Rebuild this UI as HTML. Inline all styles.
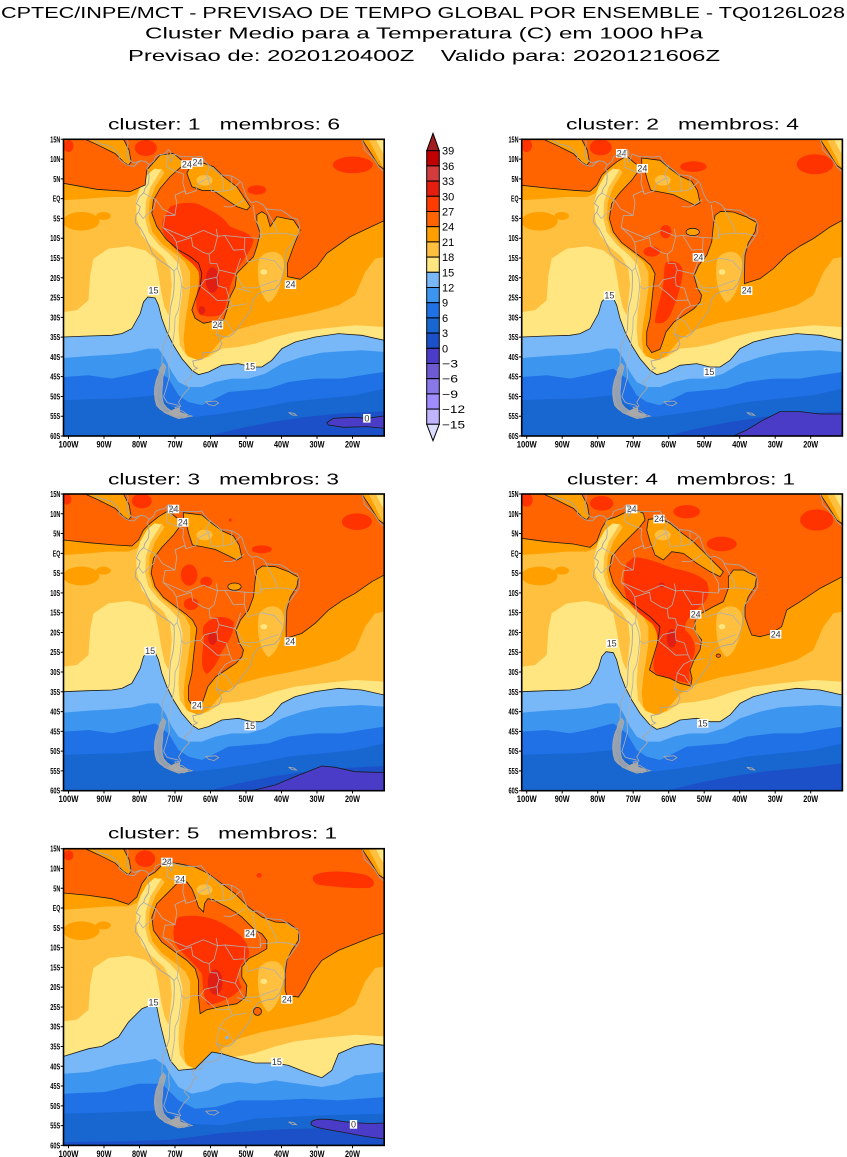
<!DOCTYPE html>
<html><head><meta charset="utf-8">
<style>
html,body{margin:0;padding:0;background:#fff;}
svg{display:block;}
.t{font-family:"Liberation Sans",sans-serif;fill:#000;white-space:pre;}
.lat{font-family:"Liberation Sans",sans-serif;font-weight:bold;font-size:8.5px;text-anchor:end;fill:#000;}
.lon{font-family:"Liberation Sans",sans-serif;font-weight:bold;font-size:9px;text-anchor:middle;fill:#000;}
.cl{font-family:"Liberation Sans",sans-serif;font-size:27px;text-anchor:middle;fill:#333;}
.cb{font-family:"Liberation Sans",sans-serif;font-size:11px;fill:#000;}
</style></head><body>
<svg width="847" height="1157" viewBox="0 0 847 1157" xmlns="http://www.w3.org/2000/svg">
<defs>
<clipPath id="fr"><rect x="0" y="0" width="320.7" height="296.7"/></clipPath>

<path id="car" d="M190,72 L230,90 280,115 305,140 320,150 328,140 322,105 305,72 Z"/>
<path id="afr" d="M1020,72 L1045,110 1070,150 1087,162 L1087,72 Z"/>
<path id="ov" d="M618,350 a20,11 0 1,0 40,0 a20,11 0 1,0 -40,0 Z"/>

<path id="m1" d="M125,204 L225,222 325,229 370,209 375,164 415,119 455,114 490,144 445,184 415,219 395,254 390,294 405,334 435,374 470,404 505,424 530,444 540,474 535,514 520,554 510,584 520,609 545,624 570,619 605,614 615,584 625,544 640,514 645,474 665,454 695,424 705,394 715,354 705,324 705,299 720,289 735,299 745,334 765,304 815,314 835,344 815,394 797,444 797,484 835,492 885,454 915,414 985,364 1087,316 L1087,962 125,962 Z"/>
<path id="k1" d="M515,134 L545,144 575,154 605,184 645,214 665,244 685,274 675,284 645,274 615,254 575,226 540,225 510,214 495,174 Z"/>

<path id="m3" d="M125,210 L200,218 280,225 330,228 350,210 365,180 385,160 410,140 440,122 460,140 483,157 455,195 420,232 395,265 388,310 400,350 425,382 462,410 492,432 512,450 525,475 520,515 515,560 510,610 500,650 500,690 515,712 540,702 548,680 558,650 582,620 612,600 642,580 660,560 665,540 652,518 642,482 656,450 680,420 695,380 700,330 705,300 722,288 760,290 800,305 830,322 825,350 805,382 795,420 793,470 793,505 840,490 880,460 920,420 960,392 1000,370 1050,335 1087,315 L1087,962 125,962 Z"/>
<path id="k3" d="M485,128 L500,130 540,135 570,160 600,182 635,198 652,225 660,262 645,270 615,255 580,238 540,230 512,225 502,195 495,168 485,145 Z"/>

<path id="m4" d="M125,205 L200,215 280,222 330,232 350,215 365,175 380,150 410,140 440,125 470,120 490,130 495,150 480,170 455,195 420,230 395,260 388,300 400,340 430,380 470,410 510,440 540,470 532,520 520,560 508,600 530,615 570,625 600,640 632,648 636,625 630,600 642,570 660,540 665,510 645,485 645,455 660,432 700,410 730,395 745,355 745,320 760,300 790,300 830,320 825,350 805,380 795,410 795,440 805,470 815,495 840,500 870,492 905,470 920,420 960,395 1020,355 1087,320 L1087,962 125,962 Z"/>
<path id="k4" d="M505,148 L540,145 570,160 600,185 640,215 680,255 705,280 730,305 720,320 690,305 650,280 610,250 575,245 550,270 525,255 510,215 500,180 Z"/>

<path id="m5" fill-rule="evenodd" clip-rule="evenodd" d="M125,205 L200,212 270,222 320,239 345,217 360,177 375,157 400,142 420,122 435,112 470,117 520,127 560,147 600,177 640,207 680,247 720,277 760,292 800,295 830,317 830,347 810,377 795,407 790,447 790,497 795,512 830,517 850,487 870,447 900,407 950,377 1000,357 1050,337 1087,325 L1087,962 125,962 Z M475,167 L495,172 510,192 520,217 530,247 545,262 548,237 558,222 575,225 595,237 615,247 640,262 660,277 680,297 700,317 720,327 735,347 735,372 710,387 680,402 660,427 660,457 675,482 672,517 645,537 600,545 555,555 535,567 530,517 530,467 520,432 495,407 460,382 420,352 395,317 390,277 405,237 440,202 470,172 Z"/>

<clipPath id="c1"><use href="#m1"/><use href="#k1"/><use href="#car"/><use href="#afr"/></clipPath>
<clipPath id="c3"><use href="#m3"/><use href="#k3"/><use href="#ov"/><use href="#car"/><use href="#afr"/></clipPath>
<clipPath id="c4"><use href="#m4"/><use href="#k4"/><use href="#car"/><use href="#afr"/></clipPath>
<clipPath id="c5"><use href="#m5"/><use href="#car"/><use href="#afr"/></clipPath>

<g id="cool">
 <path fill="#ffc040" d="M125,255 L200,250 260,245 320,245 345,235 370,195 395,168 418,160 428,172 400,215 383,260 381,310 392,350 420,385 460,415 490,440 505,470 505,520 498,570 490,620 485,670 490,710 505,730 535,735 560,720 600,672 650,642 720,622 800,607 880,590 950,570 1000,540 1030,470 1060,430 1087,425 L1087,962 125,962 Z"/>
 <path fill="#ffc040" d="M1040,72 L1060,110 1080,150 1087,158 L1087,72 Z"/>
 <ellipse fill="#ffc040" cx="548" cy="195" rx="24" ry="16"/>
 <path fill="#ffc040" d="M712,430 C740,395 792,405 786,455 C780,505 768,545 740,562 C712,540 702,478 712,430 Z"/>
 <ellipse fill="#ffe680" cx="726" cy="470" rx="10" ry="8"/>
 <ellipse fill="#ffa000" cx="178" cy="318" rx="55" ry="28"/>
 <ellipse fill="#ffa000" cx="245" cy="302" rx="22" ry="12"/>
 <path fill="#ffe680" d="M125,590 L165,585 200,555 205,480 215,430 260,400 320,393 370,405 400,430 410,480 418,530 428,575 440,600 445,560 450,510 445,460 425,425 390,395 360,360 345,310 343,260 355,215 375,180 398,160 418,163 405,185 386,215 372,260 370,310 380,350 410,388 445,418 472,448 482,490 480,540 473,590 470,640 474,690 495,722 530,735 560,725 600,700 650,695 700,685 760,665 820,650 900,640 1000,630 1087,635 L1087,962 125,962 Z"/>
 <path fill="#ffe680" d="M1062,72 L1075,98 1087,118 L1087,72 Z"/>
</g>

<path id="L5" d="M125,665 L200,662 270,660 300,655 330,640 355,595 365,560 378,545 400,548 410,570 420,610 435,650 455,690 480,730 510,765 530,778 560,770 600,750 650,745 690,755 720,755 750,735 780,700 820,680 880,665 950,655 1020,660 1087,675 L1087,962 125,962 Z"/>
<g id="blues">
 <use href="#L5" fill="#78b8f8"/>
 <path fill="#3c96f0" d="M125,728 L200,722 270,718 330,712 380,700 410,700 430,730 450,770 470,800 500,815 540,815 580,800 630,790 680,790 730,775 780,745 840,725 900,712 960,708 1020,705 1087,710 L1087,962 125,962 Z"/>
 <path fill="#2070e6" d="M125,785 L200,780 270,790 330,778 400,760 440,790 470,840 500,860 540,870 580,850 620,830 680,825 740,820 800,800 880,790 960,790 1020,780 1087,770 L1087,962 125,962 Z"/>
 <path fill="#1866d0" d="M125,855 L200,852 300,850 400,840 460,880 520,905 600,895 700,880 800,860 900,850 1000,840 1087,820 L1087,962 125,962 Z"/>
 <path fill="#1c50c8" d="M560,962 L650,940 750,920 850,905 950,895 1087,888 L1087,962 Z"/>
</g>

<path id="L5b" d="M125,695 L200,672 240,665 290,637 320,592 360,552 385,542 405,547 415,597 430,657 445,707 470,737 520,732 555,697 570,682 600,687 650,702 700,715 760,715 800,722 850,742 900,759 930,737 950,687 1000,665 1050,657 1087,662 L1087,962 125,962 Z"/>
<g id="blues5">
 <use href="#L5b" fill="#78b8f8"/>
 <path fill="#3c96f0" d="M125,747 L200,742 280,722 350,712 400,702 430,722 450,757 470,787 510,807 560,797 600,777 650,772 700,777 760,767 830,777 900,787 950,777 1000,752 1087,742 L1087,962 125,962 Z"/>
 <path fill="#2070e6" d="M125,807 L250,802 350,777 420,777 470,827 520,852 580,847 650,827 750,827 850,822 950,827 1087,817 L1087,962 125,962 Z"/>
 <path fill="#1866d0" d="M125,867 L300,862 420,857 500,897 600,902 700,882 800,877 900,872 1087,867 L1087,962 125,962 Z"/>
 <path fill="#1c50c8" d="M125,952 L300,950 450,945 600,925 750,915 900,910 1087,905 L1087,962 125,962 Z"/>
</g>

<g id="coast" transform="translate(360,59.4) scale(3.55,-3.96)" fill="none" stroke="#a6a6a6">
 <path fill="#a9a9a9" fill-opacity="0.85" stroke="#a9a9a9" vector-effect="non-scaling-stroke" stroke-width="0.8" d="M-73.3,-41.6 L-74.2,-42.8 -74.6,-44.3 -75.3,-45.8 -75.7,-47.5 -75.8,-49.2 -75.6,-50.8 -75.2,-52.2 -74.3,-53.1 -72.8,-54 -71.2,-54.6 -69.6,-55.2 -67.5,-55.4 -66.3,-55 -67.6,-54.6 -69.4,-54.2 -71,-53.6 -72.3,-52.8 -73.2,-51.8 -73.6,-50.5 -73.7,-48.8 -73.5,-47 -73.4,-45.2 -72.9,-43.7 -72.6,-42.4 Z"/>
 <path fill="#a9a9a9" stroke="none" d="M-68.6,-52.6 L-70.5,-53.2 -72,-54 -70,-55 -67,-55 -66,-54.7 -68.6,-53.8 Z"/>
 <path vector-effect="non-scaling-stroke" stroke-width="0.9" d="M-77.3,8.6 L-76,9.4 -75.5,10.6 -74.3,11.1 -73,11.3 -71.8,12.4 -71.1,11.6 -71.6,10.6 -71.1,9.3 -70.3,11.3 -68.4,10.6 -66.2,10.6 -64.2,10.5 -62.5,10.7 -61.7,9.6 -60.6,8.5 -59.2,7.6 -58.1,6.8 -57.1,6 -55.2,5.9 -53.9,5.7 -52.2,4.8 -51.2,4 -50.5,2.1 -50,0.9 -49.4,-0.1 -48.4,-1 -47,-0.7 -45.2,-1.5 -44.2,-2.6 -42,-2.8 -40.1,-2.9 -38.6,-3.7 -37.1,-4.8 -35.5,-5.2 -34.9,-7 -35,-8.6 -36,-10 -37.2,-11.5 -38.6,-13 -39.1,-15 -39.1,-17.6 -39.7,-19.6 -40.6,-21.6 -42,-22.9 -44.6,-23.3 -46.6,-24 -48.1,-25.6 -48.6,-28 -49.8,-29.6 -51,-31 -52.5,-32.9 -53.6,-34.1 -54.9,-34.9 -56.6,-34.8 -58.4,-34.1 -57.4,-35.4 -56.8,-36.6 -57.7,-38.2 -59.6,-38.8 -62.1,-38.9 -62.4,-40.5 -65,-41 -64.6,-42.4 -63.7,-42.8 -65,-43.4 -65.4,-45 -67.4,-46.3 -66,-47.8 -67.7,-49.5 -69,-51.4 -68.4,-52.4 -70,-52.7 -69.4,-53.4 -68,-53.6 -66.5,-54.5 -65.2,-54.9 -67,-55.2 -69,-55.5 -71,-54.8 -73,-54 -74.5,-52.5 -75.3,-50 -75.5,-48 -74.5,-46.6 -75,-45 -73.5,-43.5 -73.7,-41.6 -73.6,-39.5 -73.5,-37.4 -72.5,-35.5 -71.6,-33 -71.5,-30 -71.3,-27.5 -70.6,-25 -70.3,-23 -70.2,-20 -70.3,-18.3 -71.5,-17.2 -74,-15.8 -76.3,-13.9 -77.2,-12 -78.5,-9.5 -79.7,-7.5 -81.2,-6 -81,-4.2 -80.2,-3.3 -79.8,-2 -80.9,-1.2 -80,0.5 -78.8,1.5 -78.5,2.5 -77.5,3.8 -77.3,5.5 -77.5,7 -77.9,7.6 -77.3,8.6 Z M-77.3,8.6 L-78.4,9.4 -79.6,9.6 -80.5,9.1 -81.5,8.2 -82.7,8.3 -83.7,8.6 -85.7,10 -85.8,11.2 -87.5,12.9 -89.2,13.5 -91.2,13.9 -92.5,14.7 -93.3,15.5 M-79.6,9.6 L-81.5,9 -82.3,9.4 -83.6,10.8 -83.5,12.5 -83.2,14.2 -83.5,15 -84.6,15.9 M-17.3,15 L-17.2,14.6 -16.8,13.6 -16.7,12.4 -15.4,11.3 -14.6,10.6 -13.8,9.8 -13.2,9 -12.5,7.9 -11.4,7 -11,6.8 M-61.3,-51.3 L-58.5,-51.1 -57.7,-51.6 -59,-52.3 -60.5,-52 Z M-38,-54 L-36.5,-54.2 -35.8,-54.7 -37,-54.6 Z"/>
 <path vector-effect="non-scaling-stroke" stroke-width="0.8" stroke="#b0b0b0" d="M-73.4,-7.3 L-72.8,-4.3 -70,-4.2 -69.5,-1 -70,0.9 -67.3,2 -66.9,1.2 -64.1,2 -63.4,3.9 -60.7,5.2 -60,3 -59.7,1.8 -56.5,1.9 -54,2.3 -51.7,4.2 M-73.4,-7.3 L-70.6,-9.5 -69.6,-11 -65.4,-9.8 -65,-12 -62,-13.6 -60.4,-14 -60.1,-16.3 -58.2,-16.4 -57.6,-18 -58.2,-19.8 -57.9,-22 -55.6,-22.6 -54.6,-25.5 -53.8,-27.1 -55.8,-28 -57.6,-30.2 -55.6,-30.9 -53.5,-33.7 M-69.6,-11 L-69,-15 -69.4,-17.4 -70.3,-18.3 M-69.4,-17.4 L-68.4,-20 -68.2,-22 -67.1,-22.8 -65,-22.1 -62.8,-22 -61.6,-20.5 -58.2,-19.8 M-62.7,-22.2 L-60.2,-24 -58.1,-25.7 -54.6,-25.6 M-68.2,-22 L-68.5,-25 -69,-28 -70,-30 -70.1,-33 -70.6,-36 -71.1,-39 -71.8,-42 -71.6,-45 -72.5,-48 -73.2,-50 -72.2,-51.5 -69,-52.2 M-72.2,11.7 L-72.4,8 -70,7 -67.6,6.2 -67.8,4 -67,1.6 M-79,1.5 L-77.2,0.6 -75.4,-0.2 -73.5,-2.6 -70,-4.2 M-80.3,-3.4 L-79,-5 -76,-2.5 -75.4,-0.2 M-60,8.4 L-61.3,5.8 -60,5 M-57,6 L-56.3,3.5 -56.5,1.9 M-54,5.7 L-54,2.3 M-58.4,-34.1 L-58.1,-33 -57.6,-30.2 M-73.4,-7.3 L-66.8,-9.8 -62,-8 -58,-9.5 -56,-9.3 -50.3,-9.8 -46,-10 -45.7,-9 -41.3,-8.7 -38.5,-8.8 -35.7,-9.4 M-58.4,-7.6 L-58,-9.5 -59,-13 -60.4,-14 M-53.5,-13 L-50.5,-12.8 -49.5,-16 -45.5,-15 -42,-15.7 -39.8,-18 M-53,-19 L-50.7,-22.5 -47,-22.5 -44.2,-21.5 -41,-20.5 M-52.5,-22.6 L-48.5,-23.6 M-53.8,-27.1 L-49.7,-26.5 M-48,-1.5 L-47.5,-5 -46,-7.5 -46,-10 M-44.5,-2.5 L-41.7,-7 -41.3,-8.7 M-56.3,-2 L-54.3,-2.1 -52.8,-1.6 -50.5,-0.2 M-53.5,-13 L-56,-9.3 M-50.3,-9.8 L-50.5,-12.8 M-51.5,-15 L-53,-19 -57.6,-18"/>
</g>

<path id="ltk" d="M-2.8,0h2.8M-2.8,19.78h2.8M-2.8,39.56h2.8M-2.8,59.34h2.8M-2.8,79.12h2.8M-2.8,98.9h2.8M-2.8,118.68h2.8M-2.8,138.46h2.8M-2.8,158.24h2.8M-2.8,178.02h2.8M-2.8,197.8h2.8M-2.8,217.58h2.8M-2.8,237.36h2.8M-2.8,257.14h2.8M-2.8,276.92h2.8M-2.8,296.7h2.8M5,296.7v2.8M40.5,296.7v2.8M76,296.7v2.8M111.5,296.7v2.8M147,296.7v2.8M182.5,296.7v2.8M218,296.7v2.8M253.5,296.7v2.8M289,296.7v2.8"/>
</defs>

<!-- Titles -->
<text class="t" x="1" y="18" font-size="16" textLength="844" lengthAdjust="spacingAndGlyphs">CPTEC/INPE/MCT - PREVISAO DE TEMPO GLOBAL POR ENSEMBLE - TQ0126L028</text>
<text class="t" x="145" y="38.5" font-size="16" textLength="558" lengthAdjust="spacingAndGlyphs">Cluster Medio para a Temperatura (C) em 1000 hPa</text>
<text class="t" x="128" y="61" font-size="16" textLength="592" lengthAdjust="spacingAndGlyphs">Previsao de: 2020120400Z    Valido para: 2020121606Z</text>

<text class="t" x="108" y="129.5" font-size="16" textLength="232" lengthAdjust="spacingAndGlyphs">cluster: 1   membros: 6</text>
<text class="t" x="566" y="129.5" font-size="16" textLength="233" lengthAdjust="spacingAndGlyphs">cluster: 2   membros: 4</text>
<text class="t" x="108" y="484.3" font-size="16" textLength="231" lengthAdjust="spacingAndGlyphs">cluster: 3   membros: 3</text>
<text class="t" x="567" y="484.3" font-size="16" textLength="228" lengthAdjust="spacingAndGlyphs">cluster: 4   membros: 1</text>
<text class="t" x="108" y="838.7" font-size="16" textLength="229" lengthAdjust="spacingAndGlyphs">cluster: 5   membros: 1</text>

<!-- ============ PANEL 1 ============ -->
<g transform="translate(63.5,139.3)">
 <g clip-path="url(#fr)">
  <g transform="scale(0.333333) translate(-125,-72)">
   <rect x="125" y="72" width="962" height="890" fill="#ff6400"/>
   <g fill="#ffa000"><use href="#m1"/><use href="#k1"/><use href="#car"/><use href="#afr"/></g>
   <g clip-path="url(#c1)"><use href="#cool"/></g>
   <use href="#blues"/>
   <path fill="#4b3cc8" stroke="#1a1a1a" stroke-width="2.4" d="M915,922 L935,909 995,906 1035,909 1087,902 L1087,939 1035,934 965,936 920,929 Z"/>
   <g fill="#ff3300">
    <ellipse cx="140" cy="92" rx="15" ry="18"/>
    <ellipse cx="372" cy="98" rx="33" ry="24"/>
    <ellipse cx="993" cy="149" rx="60" ry="25"/>
    <ellipse cx="705" cy="224" rx="28" ry="14"/>
    <path d="M445,274 C470,262 520,255 545,274 C575,290 600,300 625,334 C650,345 690,355 695,374 C692,395 675,420 665,434 C645,460 632,490 625,514 C618,545 612,575 605,594 C590,606 555,606 535,599 C520,585 522,555 525,534 C530,510 535,494 530,470 C520,450 500,435 485,424 C465,405 440,385 425,354 C418,335 420,310 435,294 Z"/>
   </g>
   <ellipse fill="#e01e14" cx="572" cy="494" rx="20" ry="38"/>
   <ellipse fill="#e01e14" cx="540" cy="585" rx="10" ry="12"/>
   <g fill="none" stroke="#1a1a1a" stroke-width="2.4"><use href="#m1"/><use href="#k1"/><use href="#car"/><use href="#afr"/><use href="#L5"/></g>
   <g fill="#fff">
    <rect x="478" y="135" width="34" height="26"/><rect x="510" y="128" width="34" height="26"/><rect x="789" y="495" width="34" height="26"/><rect x="570" y="616" width="34" height="26"/><rect x="378" y="513" width="34" height="26"/><rect x="668" y="741" width="34" height="26"/><rect x="1024" y="896" width="22" height="26"/>
   </g>
   <text class="cl" x="495" y="157">24</text><text class="cl" x="527" y="150">24</text><text class="cl" x="806" y="517">24</text><text class="cl" x="587" y="638">24</text><text class="cl" x="395" y="535">15</text><text class="cl" x="685" y="763">15</text><text class="cl" x="1035" y="918">0</text>
  </g>
  <use href="#coast"/>
 </g>
 <rect x="0" y="0" width="320.7" height="296.7" fill="none" stroke="#000" stroke-width="1.6"/>
 <use href="#ltk" stroke="#000" stroke-width="1"/>
 <text class="lat" x="-3.2" y="3" textLength="10" lengthAdjust="spacingAndGlyphs">15N</text><text class="lat" x="-3.2" y="22.8" textLength="10" lengthAdjust="spacingAndGlyphs">10N</text><text class="lat" x="-3.2" y="42.6" textLength="7" lengthAdjust="spacingAndGlyphs">5N</text><text class="lat" x="-3.2" y="62.3" textLength="7.5" lengthAdjust="spacingAndGlyphs">EQ</text><text class="lat" x="-3.2" y="82.1" textLength="7" lengthAdjust="spacingAndGlyphs">5S</text><text class="lat" x="-3.2" y="101.9" textLength="10" lengthAdjust="spacingAndGlyphs">10S</text><text class="lat" x="-3.2" y="121.7" textLength="10" lengthAdjust="spacingAndGlyphs">15S</text><text class="lat" x="-3.2" y="141.5" textLength="10" lengthAdjust="spacingAndGlyphs">20S</text><text class="lat" x="-3.2" y="161.2" textLength="10" lengthAdjust="spacingAndGlyphs">25S</text><text class="lat" x="-3.2" y="181" textLength="10" lengthAdjust="spacingAndGlyphs">30S</text><text class="lat" x="-3.2" y="200.8" textLength="10" lengthAdjust="spacingAndGlyphs">35S</text><text class="lat" x="-3.2" y="220.6" textLength="10" lengthAdjust="spacingAndGlyphs">40S</text><text class="lat" x="-3.2" y="240.4" textLength="10" lengthAdjust="spacingAndGlyphs">45S</text><text class="lat" x="-3.2" y="260.1" textLength="10" lengthAdjust="spacingAndGlyphs">50S</text><text class="lat" x="-3.2" y="279.9" textLength="10" lengthAdjust="spacingAndGlyphs">55S</text><text class="lat" x="-3.2" y="299.7" textLength="10" lengthAdjust="spacingAndGlyphs">60S</text>
 <text class="lon" x="5" y="308.2" textLength="20" lengthAdjust="spacingAndGlyphs">100W</text><text class="lon" x="40.5" y="308.2" textLength="15" lengthAdjust="spacingAndGlyphs">90W</text><text class="lon" x="76" y="308.2" textLength="15" lengthAdjust="spacingAndGlyphs">80W</text><text class="lon" x="111.5" y="308.2" textLength="15" lengthAdjust="spacingAndGlyphs">70W</text><text class="lon" x="147" y="308.2" textLength="15" lengthAdjust="spacingAndGlyphs">60W</text><text class="lon" x="182.5" y="308.2" textLength="15" lengthAdjust="spacingAndGlyphs">50W</text><text class="lon" x="218" y="308.2" textLength="15" lengthAdjust="spacingAndGlyphs">40W</text><text class="lon" x="253.5" y="308.2" textLength="15" lengthAdjust="spacingAndGlyphs">30W</text><text class="lon" x="289" y="308.2" textLength="15" lengthAdjust="spacingAndGlyphs">20W</text>
</g>

<!-- ============ PANEL 2 ============ -->
<g transform="translate(521.7,139.3)">
 <g clip-path="url(#fr)">
  <g transform="scale(0.333333) translate(-125,-72)">
   <rect x="125" y="72" width="962" height="890" fill="#ff6400"/>
   <g fill="#ffa000"><use href="#m3"/><use href="#k3"/><use href="#ov"/><use href="#car"/><use href="#afr"/></g>
   <g clip-path="url(#c3)"><use href="#cool"/></g>
   <use href="#blues"/>
   <path fill="#4b3cc8" stroke="#1a1a1a" stroke-width="2.4" d="M760,962 L800,944 850,914 900,889 960,889 1020,896 1087,896 L1087,962 Z"/>
   <g fill="#ff3300">
    <ellipse cx="140" cy="90" rx="16" ry="20"/>
    <ellipse cx="362" cy="96" rx="33" ry="24"/>
    <ellipse cx="1005" cy="147" rx="55" ry="30"/>
    <ellipse cx="640" cy="154" rx="40" ry="16"/>
    <ellipse cx="515" cy="409" rx="25" ry="15"/>
    <ellipse cx="557" cy="349" rx="17" ry="20"/>
    <path d="M560,440 C585,432 610,445 608,475 C603,515 590,555 575,590 C565,615 548,630 525,622 C525,590 545,545 550,505 C553,478 550,452 560,440 Z"/>
   </g>
   <g fill="none" stroke="#1a1a1a" stroke-width="2.4"><use href="#m3"/><use href="#k3"/><use href="#ov"/><use href="#car"/><use href="#afr"/><use href="#L5"/></g>
   <g fill="#fff">
    <rect x="408" y="101" width="34" height="26"/><rect x="470" y="146" width="34" height="26"/><rect x="638" y="413" width="34" height="26"/><rect x="783" y="513" width="34" height="26"/><rect x="371" y="528" width="34" height="26"/><rect x="671" y="757" width="34" height="26"/>
   </g>
   <text class="cl" x="425" y="123">24</text><text class="cl" x="487" y="168">24</text><text class="cl" x="655" y="435">24</text><text class="cl" x="800" y="535">24</text><text class="cl" x="388" y="550">15</text><text class="cl" x="688" y="779">15</text>
  </g>
  <use href="#coast"/>
 </g>
 <rect x="0" y="0" width="320.7" height="296.7" fill="none" stroke="#000" stroke-width="1.6"/>
 <use href="#ltk" stroke="#000" stroke-width="1"/>
 <text class="lat" x="-3.2" y="3" textLength="10" lengthAdjust="spacingAndGlyphs">15N</text><text class="lat" x="-3.2" y="22.8" textLength="10" lengthAdjust="spacingAndGlyphs">10N</text><text class="lat" x="-3.2" y="42.6" textLength="7" lengthAdjust="spacingAndGlyphs">5N</text><text class="lat" x="-3.2" y="62.3" textLength="7.5" lengthAdjust="spacingAndGlyphs">EQ</text><text class="lat" x="-3.2" y="82.1" textLength="7" lengthAdjust="spacingAndGlyphs">5S</text><text class="lat" x="-3.2" y="101.9" textLength="10" lengthAdjust="spacingAndGlyphs">10S</text><text class="lat" x="-3.2" y="121.7" textLength="10" lengthAdjust="spacingAndGlyphs">15S</text><text class="lat" x="-3.2" y="141.5" textLength="10" lengthAdjust="spacingAndGlyphs">20S</text><text class="lat" x="-3.2" y="161.2" textLength="10" lengthAdjust="spacingAndGlyphs">25S</text><text class="lat" x="-3.2" y="181" textLength="10" lengthAdjust="spacingAndGlyphs">30S</text><text class="lat" x="-3.2" y="200.8" textLength="10" lengthAdjust="spacingAndGlyphs">35S</text><text class="lat" x="-3.2" y="220.6" textLength="10" lengthAdjust="spacingAndGlyphs">40S</text><text class="lat" x="-3.2" y="240.4" textLength="10" lengthAdjust="spacingAndGlyphs">45S</text><text class="lat" x="-3.2" y="260.1" textLength="10" lengthAdjust="spacingAndGlyphs">50S</text><text class="lat" x="-3.2" y="279.9" textLength="10" lengthAdjust="spacingAndGlyphs">55S</text><text class="lat" x="-3.2" y="299.7" textLength="10" lengthAdjust="spacingAndGlyphs">60S</text>
 <text class="lon" x="5" y="308.2" textLength="20" lengthAdjust="spacingAndGlyphs">100W</text><text class="lon" x="40.5" y="308.2" textLength="15" lengthAdjust="spacingAndGlyphs">90W</text><text class="lon" x="76" y="308.2" textLength="15" lengthAdjust="spacingAndGlyphs">80W</text><text class="lon" x="111.5" y="308.2" textLength="15" lengthAdjust="spacingAndGlyphs">70W</text><text class="lon" x="147" y="308.2" textLength="15" lengthAdjust="spacingAndGlyphs">60W</text><text class="lon" x="182.5" y="308.2" textLength="15" lengthAdjust="spacingAndGlyphs">50W</text><text class="lon" x="218" y="308.2" textLength="15" lengthAdjust="spacingAndGlyphs">40W</text><text class="lon" x="253.5" y="308.2" textLength="15" lengthAdjust="spacingAndGlyphs">30W</text><text class="lon" x="289" y="308.2" textLength="15" lengthAdjust="spacingAndGlyphs">20W</text>
</g>

<!-- ============ PANEL 3 ============ -->
<g transform="translate(63.5,494)">
 <g clip-path="url(#fr)">
  <g transform="scale(0.333333) translate(-125,-72)">
   <rect x="125" y="72" width="962" height="890" fill="#ff6400"/>
   <g fill="#ffa000"><use href="#m3"/><use href="#k3"/><use href="#ov"/><use href="#car"/><use href="#afr"/></g>
   <g clip-path="url(#c3)"><use href="#cool"/></g>
   <use href="#blues"/>
   <path fill="#4b3cc8" stroke="#1a1a1a" stroke-width="2.4" d="M690,962 L760,945 820,920 870,900 900,888 940,892 1000,905 1060,907 1087,907 L1087,962 Z"/>
   <g fill="#ff3300">
    <ellipse cx="135" cy="88" rx="14" ry="16"/>
    <ellipse cx="360" cy="93" rx="30" ry="22"/>
    <ellipse cx="1005" cy="155" rx="45" ry="25"/>
    <ellipse cx="720" cy="238" rx="30" ry="12"/>
    <ellipse cx="502" cy="315" rx="25" ry="32"/>
    <ellipse cx="553" cy="335" rx="18" ry="15"/>
    <ellipse cx="508" cy="402" rx="22" ry="18"/>
    <ellipse cx="625" cy="150" rx="5" ry="5"/>
    <path d="M545,470 C560,440 610,430 635,455 C640,490 615,520 600,545 C590,570 575,600 555,612 C535,600 540,560 545,520 C548,500 540,485 545,470 Z"/>
   </g>
   <ellipse fill="#e01e14" cx="572" cy="505" rx="13" ry="20"/>
   <g fill="none" stroke="#1a1a1a" stroke-width="2.4"><use href="#m3"/><use href="#k3"/><use href="#ov"/><use href="#car"/><use href="#afr"/><use href="#L5"/></g>
   <g fill="#fff">
    <rect x="438" y="104" width="34" height="26"/><rect x="466" y="144" width="34" height="26"/><rect x="788" y="502" width="34" height="26"/><rect x="508" y="693" width="34" height="26"/><rect x="368" y="530" width="34" height="26"/><rect x="668" y="755" width="34" height="26"/>
   </g>
   <text class="cl" x="455" y="126">24</text><text class="cl" x="483" y="166">24</text><text class="cl" x="805" y="524">24</text><text class="cl" x="525" y="715">24</text><text class="cl" x="385" y="552">15</text><text class="cl" x="685" y="777">15</text>
  </g>
  <use href="#coast"/>
 </g>
 <rect x="0" y="0" width="320.7" height="296.7" fill="none" stroke="#000" stroke-width="1.6"/>
 <use href="#ltk" stroke="#000" stroke-width="1"/>
 <text class="lat" x="-3.2" y="3" textLength="10" lengthAdjust="spacingAndGlyphs">15N</text><text class="lat" x="-3.2" y="22.8" textLength="10" lengthAdjust="spacingAndGlyphs">10N</text><text class="lat" x="-3.2" y="42.6" textLength="7" lengthAdjust="spacingAndGlyphs">5N</text><text class="lat" x="-3.2" y="62.3" textLength="7.5" lengthAdjust="spacingAndGlyphs">EQ</text><text class="lat" x="-3.2" y="82.1" textLength="7" lengthAdjust="spacingAndGlyphs">5S</text><text class="lat" x="-3.2" y="101.9" textLength="10" lengthAdjust="spacingAndGlyphs">10S</text><text class="lat" x="-3.2" y="121.7" textLength="10" lengthAdjust="spacingAndGlyphs">15S</text><text class="lat" x="-3.2" y="141.5" textLength="10" lengthAdjust="spacingAndGlyphs">20S</text><text class="lat" x="-3.2" y="161.2" textLength="10" lengthAdjust="spacingAndGlyphs">25S</text><text class="lat" x="-3.2" y="181" textLength="10" lengthAdjust="spacingAndGlyphs">30S</text><text class="lat" x="-3.2" y="200.8" textLength="10" lengthAdjust="spacingAndGlyphs">35S</text><text class="lat" x="-3.2" y="220.6" textLength="10" lengthAdjust="spacingAndGlyphs">40S</text><text class="lat" x="-3.2" y="240.4" textLength="10" lengthAdjust="spacingAndGlyphs">45S</text><text class="lat" x="-3.2" y="260.1" textLength="10" lengthAdjust="spacingAndGlyphs">50S</text><text class="lat" x="-3.2" y="279.9" textLength="10" lengthAdjust="spacingAndGlyphs">55S</text><text class="lat" x="-3.2" y="299.7" textLength="10" lengthAdjust="spacingAndGlyphs">60S</text>
 <text class="lon" x="5" y="308.2" textLength="20" lengthAdjust="spacingAndGlyphs">100W</text><text class="lon" x="40.5" y="308.2" textLength="15" lengthAdjust="spacingAndGlyphs">90W</text><text class="lon" x="76" y="308.2" textLength="15" lengthAdjust="spacingAndGlyphs">80W</text><text class="lon" x="111.5" y="308.2" textLength="15" lengthAdjust="spacingAndGlyphs">70W</text><text class="lon" x="147" y="308.2" textLength="15" lengthAdjust="spacingAndGlyphs">60W</text><text class="lon" x="182.5" y="308.2" textLength="15" lengthAdjust="spacingAndGlyphs">50W</text><text class="lon" x="218" y="308.2" textLength="15" lengthAdjust="spacingAndGlyphs">40W</text><text class="lon" x="253.5" y="308.2" textLength="15" lengthAdjust="spacingAndGlyphs">30W</text><text class="lon" x="289" y="308.2" textLength="15" lengthAdjust="spacingAndGlyphs">20W</text>
</g>

<!-- ============ PANEL 4 ============ -->
<g transform="translate(521.7,494)">
 <g clip-path="url(#fr)">
  <g transform="scale(0.333333) translate(-125,-72)">
   <rect x="125" y="72" width="962" height="890" fill="#ff6400"/>
   <g fill="#ffa000"><use href="#m4"/><use href="#k4"/><use href="#car"/><use href="#afr"/></g>
   <g clip-path="url(#c4)"><use href="#cool"/></g>
   <use href="#blues"/>
   <path fill="#1c50c8" d="M690,962 L800,935 900,905 1000,890 1087,880 L1087,962 Z"/>
   <g fill="#ff3300">
    <ellipse cx="140" cy="90" rx="18" ry="20"/>
    <ellipse cx="365" cy="100" rx="35" ry="22"/>
    <ellipse cx="620" cy="125" rx="40" ry="20"/>
    <ellipse cx="1010" cy="150" rx="50" ry="32"/>
    <ellipse cx="725" cy="222" rx="45" ry="22"/>
    <path d="M460,262 C500,262 540,280 580,295 C620,302 660,315 680,335 C692,365 685,390 660,410 C635,430 612,455 615,480 C640,500 652,530 640,560 C628,585 625,615 630,640 C600,635 560,625 530,612 C515,600 520,570 528,540 C535,510 535,485 515,460 C490,440 460,420 440,385 C428,350 428,310 440,280 Z"/>
   </g>
   <ellipse fill="#e01e14" cx="575" cy="505" rx="15" ry="28"/>
   <ellipse fill="#e01e14" cx="545" cy="345" rx="9" ry="8"/>
   <ellipse fill="#ff6400" stroke="#1a1a1a" stroke-width="2" cx="715" cy="557" rx="7" ry="5"/>
   <g fill="none" stroke="#1a1a1a" stroke-width="2.4"><use href="#m4"/><use href="#k4"/><use href="#car"/><use href="#afr"/><use href="#L5"/></g>
   <g fill="#fff">
    <rect x="438" y="104" width="34" height="26"/><rect x="520" y="134" width="34" height="26"/><rect x="630" y="420" width="34" height="26"/><rect x="870" y="480" width="34" height="26"/><rect x="378" y="507" width="34" height="26"/><rect x="651" y="747" width="34" height="26"/>
   </g>
   <text class="cl" x="455" y="126">24</text><text class="cl" x="537" y="156">24</text><text class="cl" x="647" y="442">24</text><text class="cl" x="887" y="502">24</text><text class="cl" x="395" y="529">15</text><text class="cl" x="668" y="769">15</text>
  </g>
  <use href="#coast"/>
 </g>
 <rect x="0" y="0" width="320.7" height="296.7" fill="none" stroke="#000" stroke-width="1.6"/>
 <use href="#ltk" stroke="#000" stroke-width="1"/>
 <text class="lat" x="-3.2" y="3" textLength="10" lengthAdjust="spacingAndGlyphs">15N</text><text class="lat" x="-3.2" y="22.8" textLength="10" lengthAdjust="spacingAndGlyphs">10N</text><text class="lat" x="-3.2" y="42.6" textLength="7" lengthAdjust="spacingAndGlyphs">5N</text><text class="lat" x="-3.2" y="62.3" textLength="7.5" lengthAdjust="spacingAndGlyphs">EQ</text><text class="lat" x="-3.2" y="82.1" textLength="7" lengthAdjust="spacingAndGlyphs">5S</text><text class="lat" x="-3.2" y="101.9" textLength="10" lengthAdjust="spacingAndGlyphs">10S</text><text class="lat" x="-3.2" y="121.7" textLength="10" lengthAdjust="spacingAndGlyphs">15S</text><text class="lat" x="-3.2" y="141.5" textLength="10" lengthAdjust="spacingAndGlyphs">20S</text><text class="lat" x="-3.2" y="161.2" textLength="10" lengthAdjust="spacingAndGlyphs">25S</text><text class="lat" x="-3.2" y="181" textLength="10" lengthAdjust="spacingAndGlyphs">30S</text><text class="lat" x="-3.2" y="200.8" textLength="10" lengthAdjust="spacingAndGlyphs">35S</text><text class="lat" x="-3.2" y="220.6" textLength="10" lengthAdjust="spacingAndGlyphs">40S</text><text class="lat" x="-3.2" y="240.4" textLength="10" lengthAdjust="spacingAndGlyphs">45S</text><text class="lat" x="-3.2" y="260.1" textLength="10" lengthAdjust="spacingAndGlyphs">50S</text><text class="lat" x="-3.2" y="279.9" textLength="10" lengthAdjust="spacingAndGlyphs">55S</text><text class="lat" x="-3.2" y="299.7" textLength="10" lengthAdjust="spacingAndGlyphs">60S</text>
 <text class="lon" x="5" y="308.2" textLength="20" lengthAdjust="spacingAndGlyphs">100W</text><text class="lon" x="40.5" y="308.2" textLength="15" lengthAdjust="spacingAndGlyphs">90W</text><text class="lon" x="76" y="308.2" textLength="15" lengthAdjust="spacingAndGlyphs">80W</text><text class="lon" x="111.5" y="308.2" textLength="15" lengthAdjust="spacingAndGlyphs">70W</text><text class="lon" x="147" y="308.2" textLength="15" lengthAdjust="spacingAndGlyphs">60W</text><text class="lon" x="182.5" y="308.2" textLength="15" lengthAdjust="spacingAndGlyphs">50W</text><text class="lon" x="218" y="308.2" textLength="15" lengthAdjust="spacingAndGlyphs">40W</text><text class="lon" x="253.5" y="308.2" textLength="15" lengthAdjust="spacingAndGlyphs">30W</text><text class="lon" x="289" y="308.2" textLength="15" lengthAdjust="spacingAndGlyphs">20W</text>
</g>

<!-- ============ PANEL 5 ============ -->
<g transform="translate(63.5,848.7)">
 <g clip-path="url(#fr)">
  <g transform="scale(0.333333) translate(-125,-72)">
   <rect x="125" y="72" width="962" height="890" fill="#ff6400"/>
   <g fill="#ffa000"><use href="#m5"/><use href="#car"/><use href="#afr"/></g>
   <g clip-path="url(#c5)"><use href="#cool"/></g>
   <use href="#blues5"/>
   <path fill="#4b3cc8" stroke="#1a1a1a" stroke-width="2.4" d="M868,892 C880,880 920,882 960,890 C1000,895 1050,897 1087,895 L1087,942 C1050,940 1000,930 960,922 C920,915 880,910 868,900 Z"/>
   <g fill="#ff3300">
    <ellipse cx="140" cy="92" rx="15" ry="15"/>
    <ellipse cx="370" cy="102" rx="30" ry="25"/>
    <ellipse cx="712" cy="152" rx="8" ry="7"/>
    <path d="M880,150 C920,135 980,140 1030,150 C1060,160 1065,185 1040,190 C990,192 930,185 890,180 C870,172 868,158 880,150 Z"/>
    <path d="M470,277 C520,267 580,277 620,307 C660,327 690,367 680,397 C650,417 640,457 660,487 C640,517 600,532 560,542 C540,517 545,477 540,447 C520,417 480,387 460,357 C450,327 455,297 470,277 Z"/>
   </g>
   <ellipse fill="#e01e14" cx="580" cy="472" rx="22" ry="38"/>
   <circle fill="#ff6400" stroke="#1a1a1a" stroke-width="2.4" cx="707" cy="560" r="12"/>
   <circle fill="#78b8f8" cx="615" cy="639" r="5"/>
   <g fill="none" stroke="#1a1a1a" stroke-width="2.4"><use href="#m5"/><use href="#car"/><use href="#afr"/><use href="#L5b"/></g>
   <g fill="#fff">
    <rect x="418" y="99" width="34" height="26"/><rect x="458" y="151" width="34" height="26"/><rect x="668" y="314" width="34" height="26"/><rect x="778" y="511" width="34" height="26"/><rect x="378" y="521" width="34" height="26"/><rect x="748" y="699" width="34" height="26"/><rect x="984" y="886" width="22" height="26"/>
   </g>
   <text class="cl" x="435" y="121">24</text><text class="cl" x="475" y="173">24</text><text class="cl" x="685" y="336">24</text><text class="cl" x="795" y="533">24</text><text class="cl" x="395" y="543">15</text><text class="cl" x="765" y="721">15</text><text class="cl" x="995" y="908">0</text>
  </g>
  <use href="#coast"/>
 </g>
 <rect x="0" y="0" width="320.7" height="296.7" fill="none" stroke="#000" stroke-width="1.6"/>
 <use href="#ltk" stroke="#000" stroke-width="1"/>
 <text class="lat" x="-3.2" y="3" textLength="10" lengthAdjust="spacingAndGlyphs">15N</text><text class="lat" x="-3.2" y="22.8" textLength="10" lengthAdjust="spacingAndGlyphs">10N</text><text class="lat" x="-3.2" y="42.6" textLength="7" lengthAdjust="spacingAndGlyphs">5N</text><text class="lat" x="-3.2" y="62.3" textLength="7.5" lengthAdjust="spacingAndGlyphs">EQ</text><text class="lat" x="-3.2" y="82.1" textLength="7" lengthAdjust="spacingAndGlyphs">5S</text><text class="lat" x="-3.2" y="101.9" textLength="10" lengthAdjust="spacingAndGlyphs">10S</text><text class="lat" x="-3.2" y="121.7" textLength="10" lengthAdjust="spacingAndGlyphs">15S</text><text class="lat" x="-3.2" y="141.5" textLength="10" lengthAdjust="spacingAndGlyphs">20S</text><text class="lat" x="-3.2" y="161.2" textLength="10" lengthAdjust="spacingAndGlyphs">25S</text><text class="lat" x="-3.2" y="181" textLength="10" lengthAdjust="spacingAndGlyphs">30S</text><text class="lat" x="-3.2" y="200.8" textLength="10" lengthAdjust="spacingAndGlyphs">35S</text><text class="lat" x="-3.2" y="220.6" textLength="10" lengthAdjust="spacingAndGlyphs">40S</text><text class="lat" x="-3.2" y="240.4" textLength="10" lengthAdjust="spacingAndGlyphs">45S</text><text class="lat" x="-3.2" y="260.1" textLength="10" lengthAdjust="spacingAndGlyphs">50S</text><text class="lat" x="-3.2" y="279.9" textLength="10" lengthAdjust="spacingAndGlyphs">55S</text><text class="lat" x="-3.2" y="299.7" textLength="10" lengthAdjust="spacingAndGlyphs">60S</text>
 <text class="lon" x="5" y="308.2" textLength="20" lengthAdjust="spacingAndGlyphs">100W</text><text class="lon" x="40.5" y="308.2" textLength="15" lengthAdjust="spacingAndGlyphs">90W</text><text class="lon" x="76" y="308.2" textLength="15" lengthAdjust="spacingAndGlyphs">80W</text><text class="lon" x="111.5" y="308.2" textLength="15" lengthAdjust="spacingAndGlyphs">70W</text><text class="lon" x="147" y="308.2" textLength="15" lengthAdjust="spacingAndGlyphs">60W</text><text class="lon" x="182.5" y="308.2" textLength="15" lengthAdjust="spacingAndGlyphs">50W</text><text class="lon" x="218" y="308.2" textLength="15" lengthAdjust="spacingAndGlyphs">40W</text><text class="lon" x="253.5" y="308.2" textLength="15" lengthAdjust="spacingAndGlyphs">30W</text><text class="lon" x="289" y="308.2" textLength="15" lengthAdjust="spacingAndGlyphs">20W</text>
</g>

<!-- ============ COLORBAR ============ -->
<g stroke="#000" stroke-width="1">
 <polygon points="426.7,150.7 439.3,150.7 433,133.3" fill="#a01e1e"/>
 <rect x="426.7" y="150.7" width="12.6" height="15.2" fill="#c00000"/>
 <rect x="426.7" y="165.9" width="12.6" height="15.2" fill="#d23c3c"/>
 <rect x="426.7" y="181.1" width="12.6" height="15.2" fill="#e61e0f"/>
 <rect x="426.7" y="196.3" width="12.6" height="15.2" fill="#ff3c00"/>
 <rect x="426.7" y="211.5" width="12.6" height="15.2" fill="#ff6400"/>
 <rect x="426.7" y="226.7" width="12.6" height="15.2" fill="#ffa000"/>
 <rect x="426.7" y="241.9" width="12.6" height="15.2" fill="#ffc040"/>
 <rect x="426.7" y="257.1" width="12.6" height="15.2" fill="#ffe680"/>
 <rect x="426.7" y="272.3" width="12.6" height="15.2" fill="#78b8f8"/>
 <rect x="426.7" y="287.5" width="12.6" height="15.2" fill="#3c96f0"/>
 <rect x="426.7" y="302.7" width="12.6" height="15.2" fill="#2070e6"/>
 <rect x="426.7" y="317.9" width="12.6" height="15.2" fill="#1866d0"/>
 <rect x="426.7" y="333.1" width="12.6" height="15.2" fill="#1c50c8"/>
 <rect x="426.7" y="348.3" width="12.6" height="15.2" fill="#4b3cc8"/>
 <rect x="426.7" y="363.5" width="12.6" height="15.2" fill="#6e5ad2"/>
 <rect x="426.7" y="378.7" width="12.6" height="15.2" fill="#8878e8"/>
 <rect x="426.7" y="393.9" width="12.6" height="15.2" fill="#a08cff"/>
 <rect x="426.7" y="409.1" width="12.6" height="15.2" fill="#c0b4ff"/>
 <polygon points="426.7,424.3 439.3,424.3 433,440.7" fill="#dcdcff"/>
</g>
<g>
 <text class="cb" x="442" y="154.7">39</text>
 <text class="cb" x="442" y="169.9">36</text>
 <text class="cb" x="442" y="185.1">33</text>
 <text class="cb" x="442" y="200.3">30</text>
 <text class="cb" x="442" y="215.5">27</text>
 <text class="cb" x="442" y="230.7">24</text>
 <text class="cb" x="442" y="245.9">21</text>
 <text class="cb" x="442" y="261.1">18</text>
 <text class="cb" x="442" y="276.3">15</text>
 <text class="cb" x="442" y="291.5">12</text>
 <text class="cb" x="442" y="306.7">9</text>
 <text class="cb" x="442" y="321.9">6</text>
 <text class="cb" x="442" y="337.1">3</text>
 <text class="cb" x="442" y="352.3">0</text>
 <text class="cb" x="442" y="367.5" textLength="16" lengthAdjust="spacingAndGlyphs">−3</text>
 <text class="cb" x="442" y="382.7" textLength="16" lengthAdjust="spacingAndGlyphs">−6</text>
 <text class="cb" x="442" y="397.9" textLength="16" lengthAdjust="spacingAndGlyphs">−9</text>
 <text class="cb" x="442" y="413.1" textLength="23" lengthAdjust="spacingAndGlyphs">−12</text>
 <text class="cb" x="442" y="428.3" textLength="23" lengthAdjust="spacingAndGlyphs">−15</text>
</g>
</svg>
</body></html>
